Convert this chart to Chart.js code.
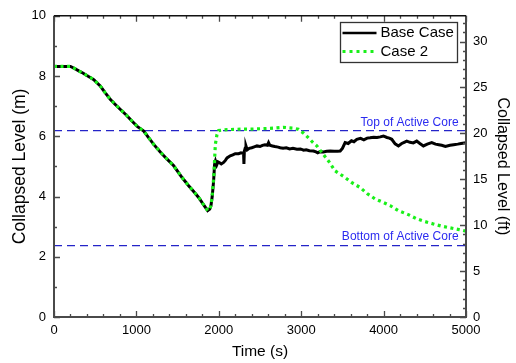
<!DOCTYPE html>
<html>
<head>
<meta charset="utf-8">
<script src="https://cdn.jsdelivr.net/npm/chart.js@4/dist/chart.umd.min.js"></script>
<style>
  html, body { margin: 0; padding: 0; background: #ffffff; }
  #wrap { width: 516px; height: 363px; position: relative; }
</style>
</head>
<body>
<div id="wrap"><canvas id="c" width="516" height="363"></canvas></div>
<script>
// ---- Data ----
const baseTime = [0,100,200,250,300,350,414,483,564,620,685,750,806,880,948,1010,1089,1150,1210,1290,1372,1453,1554,1634,1700,1755,1810,1865,1890,1905,1920,1937,1949,1960,1975,1990,2010,2030,2058,2080,2100,2139,2170,2200,2240,2270,2290,2300,2305,2310,2320,2330,2345,2370,2400,2430,2463,2500,2530,2560,2590,2604,2620,2650,2680,2720,2745,2780,2820,2860,2900,2948,2990,3030,3060,3100,3149,3180,3200,3230,3270,3310,3352,3400,3440,3473,3500,3533,3570,3610,3640,3675,3720,3760,3800,3836,3880,3920,3960,3998,4040,4070,4099,4140,4180,4220,4250,4281,4320,4360,4402,4440,4483,4530,4584,4630,4670,4705,4750,4806,4850,4900,4940,5000];
const baseLevel = [8.32,8.32,8.32,8.25,8.17,8.10,7.99,7.88,7.66,7.45,7.22,7.04,6.89,6.70,6.50,6.33,6.17,5.95,5.73,5.48,5.24,5.02,4.63,4.36,4.15,3.97,3.75,3.53,3.58,3.70,4.00,4.52,5.07,5.18,5.05,5.15,5.12,5.08,5.13,5.20,5.28,5.35,5.38,5.42,5.42,5.45,5.44,5.46,5.08,5.50,5.60,5.68,5.55,5.60,5.62,5.65,5.68,5.66,5.70,5.72,5.70,5.79,5.70,5.68,5.66,5.64,5.62,5.60,5.62,5.58,5.60,5.57,5.58,5.54,5.55,5.52,5.51,5.48,5.45,5.49,5.48,5.50,5.51,5.50,5.50,5.51,5.60,5.79,5.76,5.85,5.82,5.90,5.93,5.88,5.94,5.95,5.97,5.96,5.98,6.01,5.96,5.94,5.90,5.75,5.68,5.76,5.80,5.84,5.80,5.78,5.84,5.76,5.68,5.74,5.79,5.74,5.72,5.70,5.66,5.70,5.72,5.74,5.76,5.79];

const case2Time = [0,100,200,250,300,350,414,483,564,620,685,750,806,880,948,1010,1089,1150,1210,1290,1372,1453,1554,1634,1700,1755,1810,1865,1890,1905,1920,1940,1958,1978,1998,2050,2100,2200,2300,2400,2500,2600,2700,2785,2850,2900,2967,3030,3088,3140,3190,3251,3331,3412,3533,3620,3715,3800,3897,4000,4079,4179,4300,4402,4500,4604,4700,4806,4900,5000];
const case2Level = [8.32,8.32,8.32,8.25,8.17,8.10,7.99,7.88,7.66,7.45,7.22,7.04,6.89,6.70,6.50,6.33,6.17,5.95,5.73,5.48,5.24,5.02,4.63,4.36,4.15,3.97,3.75,3.53,3.58,3.70,4.05,4.70,5.73,6.06,6.19,6.21,6.22,6.23,6.24,6.24,6.25,6.26,6.28,6.30,6.28,6.27,6.23,6.10,5.95,5.80,5.68,5.46,5.18,4.85,4.63,4.45,4.30,4.10,3.92,3.80,3.70,3.53,3.40,3.26,3.17,3.09,3.02,2.96,2.91,2.85];

const coreTop = 6.19;     // m
const coreBottom = 2.37;  // m
const refLineTime = [0, 5000];

const seriesNames = ['Base Case', 'Case 2'];
const refLabels = ['Top of Active Core', 'Bottom of Active Core'];
const xTickValues = [0, 1000, 2000, 3000, 4000, 5000];
const yTickValues = [0, 2, 4, 6, 8, 10];
const y2TickValues = [0, 5, 10, 15, 20, 25, 30];
const M_TO_FT = 3.28084;

// ---- helpers ----
const FONT = "'Liberation Sans', Arial, sans-serif";
const toPts = (xs, ys) => xs.map((x, i) => ({x: x, y: ys[i]}));
const plainLabel = v => String(v);
const AXIS_COLOR = '#4a4a4a';
const GREEN = '#19f019';
const BLUE = '#2424c8';

const framePlugin = {
  id: 'frame',
  afterDatasetsDraw(chart) {
    const {ctx, chartArea: a, scales} = chart;
    const x = scales.x, y = scales.y, y2 = scales.y2;
    ctx.save();
    // reference line labels
    ctx.fillStyle = '#2b2bf0';
    ctx.font = '12px ' + FONT;
    ctx.textAlign = 'right';
    ctx.textBaseline = 'alphabetic';
    ctx.fillText(refLabels[0], x.getPixelForValue(4910), y.getPixelForValue(coreTop) - 4.5);
    ctx.fillText(refLabels[1], x.getPixelForValue(4910), y.getPixelForValue(coreBottom) - 6);

    // tick marks (inside)
    ctx.strokeStyle = AXIS_COLOR;
    ctx.lineWidth = 1.3;
    ctx.beginPath();
    for (let t = 0; t <= 5000; t += 200) {
      const px = Math.round(x.getPixelForValue(t)) + 0.5;
      const len = (t % 1000 === 0) ? 6 : 3;
      ctx.moveTo(px, a.bottom); ctx.lineTo(px, a.bottom - len);
      ctx.moveTo(px, a.top); ctx.lineTo(px, a.top + len);
    }
    for (let v = 0; v <= 10; v += 1) {
      const py = Math.round(y.getPixelForValue(v)) + 0.5;
      const len = (v % 2 === 0) ? 6 : 3;
      ctx.moveTo(a.left, py); ctx.lineTo(a.left + len, py);
    }
    for (let f = 0; f <= 32; f += 1) {
      const py = Math.round(y2.getPixelForValue(f)) + 0.5;
      const len = (f % 5 === 0) ? 6 : 3;
      ctx.moveTo(a.right, py); ctx.lineTo(a.right - len, py);
    }
    ctx.stroke();

    // frame
    ctx.lineWidth = 2;
    ctx.strokeStyle = AXIS_COLOR;
    ctx.beginPath();
    ctx.moveTo(a.left, a.top); ctx.lineTo(a.left, a.bottom);
    ctx.lineTo(a.right, a.bottom); ctx.lineTo(a.right, a.top);
    ctx.stroke();
    ctx.strokeStyle = '#111';
    ctx.lineWidth = 1.5;
    ctx.beginPath();
    ctx.moveTo(a.left, a.top); ctx.lineTo(a.right, a.top);
    ctx.stroke();

    // legend
    const lx = 340.5, ly = 22.5, lw = 117, lh = 40;
    ctx.fillStyle = '#ffffff';
    ctx.fillRect(lx, ly, lw, lh);
    ctx.strokeStyle = '#333';
    ctx.lineWidth = 1.3;
    ctx.strokeRect(lx, ly, lw, lh);
    ctx.lineWidth = 2.5;
    ctx.strokeStyle = '#000';
    ctx.beginPath(); ctx.moveTo(lx + 2, 33); ctx.lineTo(lx + 36, 33); ctx.stroke();
    ctx.strokeStyle = GREEN;
    ctx.lineWidth = 3;
    ctx.setLineDash([3, 4]);
    ctx.beginPath(); ctx.moveTo(lx + 2, 51.5); ctx.lineTo(lx + 36, 51.5); ctx.stroke();
    ctx.setLineDash([]);
    ctx.fillStyle = '#000';
    ctx.font = '15px ' + FONT;
    ctx.textAlign = 'left';
    ctx.textBaseline = 'middle';
    ctx.fillText(seriesNames[0], lx + 40, 33);
    ctx.fillText(seriesNames[1], lx + 40, 51.5);
    ctx.restore();
  }
};

new Chart(document.getElementById('c'), {
  type: 'line',
  data: {
    datasets: [
      {
        label: seriesNames[1],
        data: toPts(case2Time, case2Level),
        borderColor: GREEN, borderWidth: 3.2, borderDash: [3, 3.5],
        pointRadius: 0, tension: 0, order: 1, yAxisID: 'y'
      },
      {
        label: seriesNames[0],
        data: toPts(baseTime, baseLevel),
        borderColor: '#000', borderWidth: 3,
        pointRadius: 0, tension: 0, order: 2, yAxisID: 'y'
      },
      {
        label: refLabels[0],
        data: toPts(refLineTime, [coreTop, coreTop]),
        borderColor: BLUE, borderWidth: 1.3, borderDash: [8, 5],
        pointRadius: 0, order: 3, yAxisID: 'y'
      },
      {
        label: refLabels[1],
        data: toPts(refLineTime, [coreBottom, coreBottom]),
        borderColor: BLUE, borderWidth: 1.3, borderDash: [8, 5],
        pointRadius: 0, order: 3, yAxisID: 'y'
      }
    ]
  },
  options: {
    responsive: false,
    animation: false,
    devicePixelRatio: 1,
    layout: { padding: { left: 0, right: 0, top: 14, bottom: 0 } },
    plugins: { legend: { display: false }, tooltip: { enabled: false } },
    scales: {
      x: {
        type: 'linear', position: 'bottom', min: 0, max: 5000,
        afterBuildTicks: s => { s.ticks = xTickValues.map(v => ({value: v})); },
        afterFit: s => { s.height = 46; },
        grid: { display: false, drawTicks: false },
        border: { display: false },
        ticks: { autoSkip: false, maxRotation: 0, padding: 6, color: '#000', callback: plainLabel, font: { family: FONT, size: 13 } },
        title: { display: true, text: 'Time (s)', color: '#000', font: { family: FONT, size: 15.5 }, padding: { top: 0, bottom: 2 } }
      },
      y: {
        type: 'linear', position: 'left', min: 0, max: 10,
        afterBuildTicks: s => { s.ticks = yTickValues.map(v => ({value: v})); },
        afterFit: s => { s.width = 54; },
        grid: { display: false, drawTicks: false },
        border: { display: false },
        ticks: { padding: 8, color: '#000', callback: plainLabel, font: { family: FONT, size: 13 } },
        title: { display: true, text: 'Collapsed Level (m)', color: '#000', font: { family: FONT, size: 17.5 }, padding: { top: 10, bottom: 0 } }
      },
      y2: {
        type: 'linear', position: 'right', min: 0, max: 10 * M_TO_FT,
        afterBuildTicks: s => { s.ticks = y2TickValues.map(v => ({value: v})); },
        afterFit: s => { s.width = 50; },
        grid: { display: false, drawTicks: false },
        border: { display: false },
        ticks: { padding: 7, color: '#000', callback: plainLabel, font: { family: FONT, size: 13 } },
        title: { display: true, text: 'Collapsed Level (ft)', color: '#000', font: { family: FONT, size: 16 }, padding: { top: 3.5, bottom: 0 } }
      }
    }
  },
  plugins: [framePlugin]
});
</script>
</body>
</html>
